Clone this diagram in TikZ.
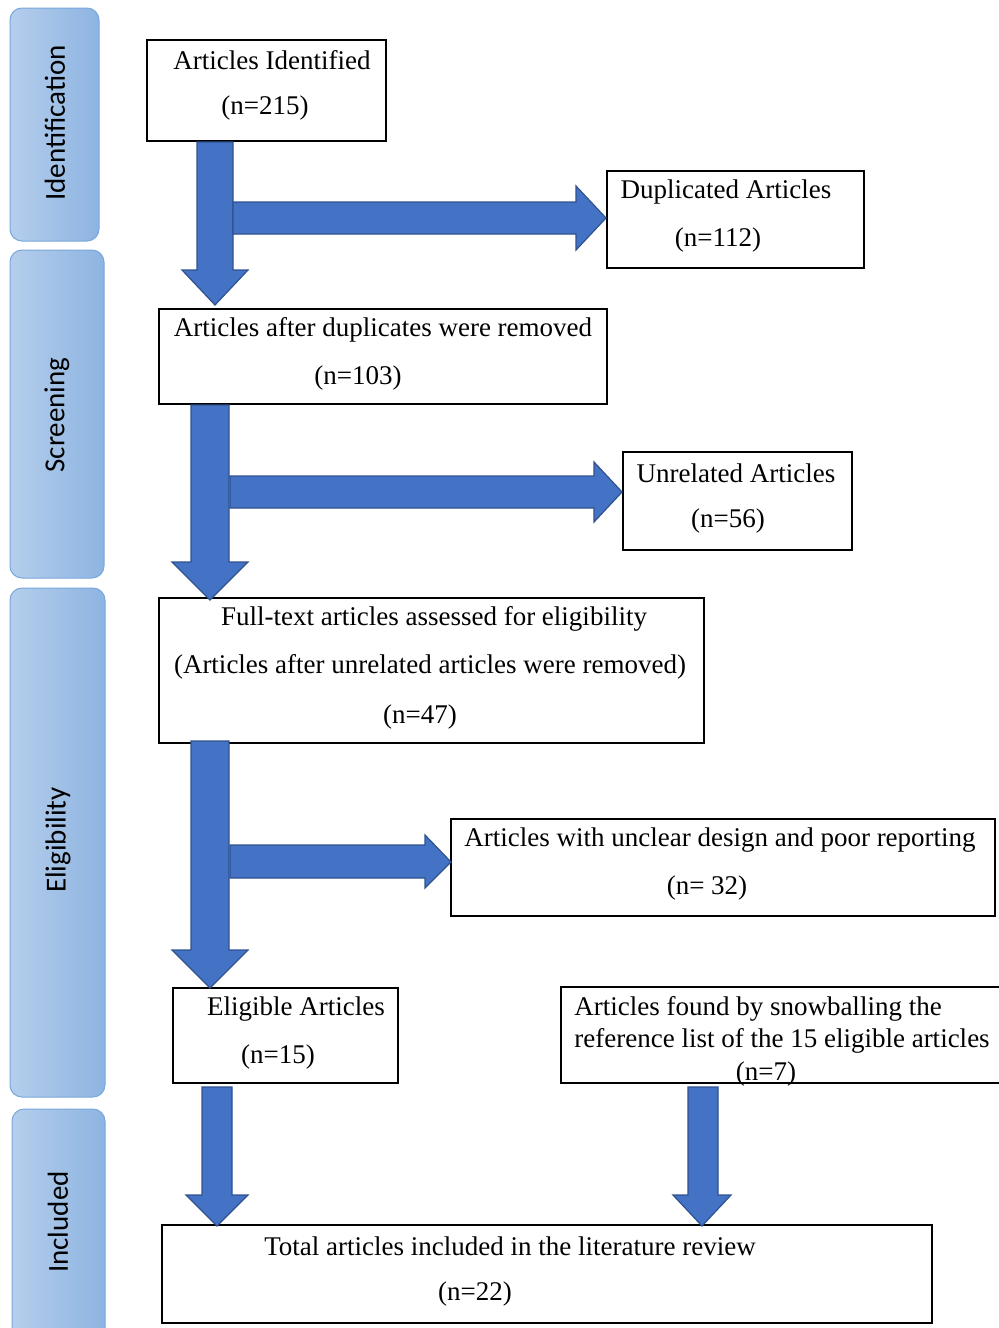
\documentclass[tikz,border=0pt]{standalone}
\usepackage{fontspec}
\setmainfont{Liberation Serif}
\newfontfamily\sidefont{Carlito}
\begin{document}
\begin{tikzpicture}[x=0.5pt,y=-0.5pt,
  box/.style={draw=black,line width=1pt,fill=white},
  txt/.style={inner sep=0pt,font=\fontsize{13.5pt}{16pt}\selectfont},
  side/.style={rounded corners=6pt,left color=sideL,right color=sideR,draw=sideB,line width=0.5pt},
  sidetxt/.style={rotate=90,inner sep=0pt,font=\sidefont\fontsize{14.5pt}{17pt}\selectfont},
  barrow/.style={fill=arrowfill,draw=arrowdraw,line width=0.6pt}]
\definecolor{sideL}{HTML}{B5CEEC}
\definecolor{sideR}{HTML}{8DB4E1}
\definecolor{sideB}{HTML}{7AA7DC}
\definecolor{arrowfill}{HTML}{4472C4}
\definecolor{arrowdraw}{HTML}{2F528F}
\useasboundingbox (0,0) rectangle (998,1328);

% side bars
\path[side] (10,8) rectangle (99,241);
\node[sidetxt] (sId) at (55,123) {Identification};
\path[side] (10,250) rectangle (104,578);
\node[sidetxt] (sSc) at (57,415) {Screening};
\path[side] (10,588) rectangle (105,1097);
\node[sidetxt] (sEl) at (58,840) {Eligibility};
\path[side] (12,1109) rectangle (105,1345);
\node[sidetxt] (sIn) at (58,1222) {Included};

% boxes
\draw[box] (147,40) rectangle (386,141);
\node[txt] (a1) at (272,60) {Articles Identified};
\node[txt] (a1n) at (265,108) {(n=215)};

\draw[box] (607,171) rectangle (864,268);
\node[txt] (d1) at (726,192) {Duplicated Articles};
\node[txt] (d1n) at (718,240) {(n=112)};

\draw[box] (159,309) rectangle (607,404);
\node[txt] (a2) at (383,330) {Articles after duplicates were removed};
\node[txt] (a2n) at (358,378) {(n=103)};

\draw[box] (623,452) rectangle (852,550);
\node[txt] (u) at (736,473) {Unrelated Articles};
\node[txt] (un) at (728,521) {(n=56)};

\draw[box] (159,598) rectangle (704,743);
\node[txt] (f1) at (434,619) {Full-text articles assessed for eligibility};
\node[txt] (f2) at (430,667) {(Articles after unrelated articles were removed)};
\node[txt] (fn) at (420,717) {(n=47)};

\draw[box] (451,819) rectangle (995,916);
\node[txt] (c) at (720,840) {Articles with unclear design and poor reporting};
\node[txt] (cn) at (707,888) {(n= 32)};

\draw[box] (173,988) rectangle (398,1083);
\node[txt] (e) at (296,1009) {Eligible Articles};
\node[txt] (en) at (278,1057) {(n=15)};

\draw[box] (561,987) rectangle (1004,1083);
\node[txt] (s1) at (758,1009) {Articles found by snowballing the};
\node[txt] (s2) at (782,1041) {reference list of the 15 eligible articles};
\node[txt] (sn) at (766,1074) {(n=7)};

\draw[box] (162,1225) rectangle (932,1323);
\node[txt] (t) at (510,1246) {Total articles included in the literature review};
\node[txt] (tn) at (475,1294) {(n=22)};

% block arrows
\draw[barrow] (197,142) -- (233,142) -- (233,270) -- (248,270) -- (215,305) -- (182,270) -- (197,270) -- cycle;
\draw[barrow] (233,202) -- (576,202) -- (576,186) -- (606,218) -- (576,250) -- (576,234) -- (233,234) -- cycle;

\draw[barrow] (191,405) -- (229,405) -- (229,562) -- (248,562) -- (210,600) -- (172,562) -- (191,562) -- cycle;
\draw[barrow] (230,476) -- (594,476) -- (594,462) -- (622,492) -- (594,522) -- (594,508) -- (230,508) -- cycle;

\draw[barrow] (191,741) -- (229,741) -- (229,950) -- (248,950) -- (210,988) -- (172,950) -- (191,950) -- cycle;
\draw[barrow] (230,845) -- (425,845) -- (425,835) -- (451,862) -- (425,888) -- (425,878) -- (230,878) -- cycle;

\draw[barrow] (202,1087) -- (232,1087) -- (232,1195) -- (248,1195) -- (217,1226) -- (186,1195) -- (202,1195) -- cycle;
\draw[barrow] (688,1087) -- (718,1087) -- (718,1195) -- (731,1195) -- (702,1226) -- (673,1195) -- (688,1195) -- cycle;
\end{tikzpicture}
\end{document}
